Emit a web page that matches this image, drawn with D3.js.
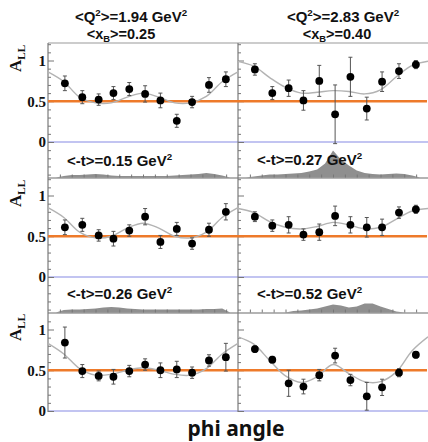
<!DOCTYPE html>
<html lang="en">
<head>
<meta charset="UTF-8">
<title>A_LL vs phi</title>
<script src="https://cdn.jsdelivr.net/npm/d3@7"></script>
<style>
  body { margin: 0; background: #fff; }
  svg { display: block; }
</style>
</head>
<body>
<script>
// phi bin centres (deg), same for every panel
var phiBins = [32, 65, 96, 124, 154, 184, 213, 244, 273, 305, 337];

// A_LL and errors, R = row, L/R = column
var allR1L = [0.72, 0.55, 0.52, 0.60, 0.65, 0.59, 0.51, 0.26, 0.49, 0.70, 0.77];
var errR1L = [0.09, 0.08, 0.07, 0.08, 0.08, 0.10, 0.09, 0.08, 0.07, 0.09, 0.09];
var allR1R = [0.89, 0.60, 0.66, 0.51, 0.75, 0.34, 0.80, 0.41, 0.74, 0.87, 0.95];
var errR1R = [0.07, 0.08, 0.10, 0.12, 0.19, 0.36, 0.24, 0.14, 0.12, 0.09, 0.05];
var allR2L = [0.61, 0.64, 0.51, 0.47, 0.57, 0.74, 0.43, 0.59, 0.41, 0.58, 0.80];
var errR2L = [0.09, 0.08, 0.07, 0.09, 0.07, 0.10, 0.08, 0.08, 0.07, 0.08, 0.10];
var allR2R = [0.74, 0.63, 0.64, 0.52, 0.55, 0.75, 0.64, 0.61, 0.61, 0.79, 0.83];
var errR2R = [0.06, 0.07, 0.10, 0.07, 0.10, 0.12, 0.10, 0.12, 0.10, 0.07, 0.05];
var allR3L = [0.84, 0.49, 0.43, 0.42, 0.49, 0.57, 0.50, 0.51, 0.47, 0.62, 0.66];
var errR3L = [0.19, 0.08, 0.06, 0.09, 0.07, 0.07, 0.09, 0.10, 0.07, 0.07, 0.17];
var allR3R = [0.76, 0.63, 0.34, 0.30, 0.44, 0.68, 0.38, 0.18, 0.29, 0.47, 0.69];
var errR3R = [0.04, 0.04, 0.16, 0.09, 0.07, 0.09, 0.07, 0.17, 0.10, 0.05, 0.04];

// fit curves read every 30 deg
var fitPhi = [0, 30, 60, 90, 120, 150, 180, 210, 240, 270, 300, 330, 360];
var fitR1L = [0.86, 0.74, 0.55, 0.48, 0.48, 0.55, 0.60, 0.55, 0.48, 0.48, 0.56, 0.74, 0.86];
var fitR1R = [0.99, 0.93, 0.79, 0.67, 0.60, 0.61, 0.63, 0.62, 0.59, 0.64, 0.80, 0.94, 0.99];
var fitR2L = [0.85, 0.73, 0.55, 0.48, 0.50, 0.60, 0.66, 0.60, 0.50, 0.48, 0.55, 0.73, 0.85];
var fitR2R = [0.84, 0.79, 0.68, 0.61, 0.59, 0.62, 0.67, 0.64, 0.59, 0.61, 0.71, 0.81, 0.84];
var fitR3L = [0.83, 0.70, 0.52, 0.44, 0.45, 0.50, 0.53, 0.50, 0.45, 0.44, 0.52, 0.70, 0.83];
var fitR3R = [0.91, 0.82, 0.62, 0.43, 0.35, 0.42, 0.57, 0.46, 0.36, 0.36, 0.48, 0.74, 0.91];

// -t distributions (arbitrary counts) every 15 deg
var histPhi = [0, 15, 30, 45, 60, 75, 90, 105, 120, 135, 150, 165, 180,
               195, 210, 225, 240, 255, 270, 285, 300, 315, 330, 345, 360];
var histT015 = [0, 0, 1.5, 2.5, 2.5, 3, 3.5, 3, 2, 1.5, 1.5, 1.5, 1.5, 1.5, 1.5, 1.5, 2, 2.5, 3, 3.5, 4.5, 3.5, 2, 0, 0];
var histT027 = [0, 0, 1, 2, 3, 3, 3.5, 4, 4.5, 6, 8, 14, 27, 18, 12, 7, 4.5, 3.5, 3, 3.5, 4, 3.5, 2, 0, 0];
var histT026 = [0, 0, 2.5, 3, 3, 3.5, 4, 5, 5.5, 5, 4, 3.5, 3, 3, 3, 3, 3, 3, 3, 3, 3.5, 3.5, 4, 0, 0];
var histT052 = [0, 0, 0, 0, 0, 0, 0, 1.5, 2, 3, 4, 6, 8, 7, 5, 6, 9, 9, 6, 3.5, 1, 0, 0, 0, 0];

var colQ2 = ["1.94", "2.83"];
var colXB = ["0.25", "0.40"];
var tMeans = ["0.15", "0.27", "0.26", "0.52"];
var refLine = 0.5;

// ---- layout
var width = 428, height = 442;
var colRange = [[48, 238], [238, 428]];
var rowZero = [142, 277, 411];
var rowTop = [43, 178, 313];
var rowBottom = [178, 313, 411];
var unitPx = 81.5;

var svg = d3.select("body").append("svg")
    .attr("width", width).attr("height", height);

var xs = colRange.map(function(r) {
    return d3.scaleLinear().domain([0, 360]).range(r);
});
var ys = rowZero.map(function(z) {
    return d3.scaleLinear().domain([0, 1]).range([z, z - unitPx]);
});
var hScale = d3.scaleLinear().domain([0, 30]).range([0, 30]);

var panels = [
    {row: 0, col: 0, v: allR1L, e: errR1L, fit: fitR1L},
    {row: 0, col: 1, v: allR1R, e: errR1R, fit: fitR1R},
    {row: 1, col: 0, v: allR2L, e: errR2L, fit: fitR2L},
    {row: 1, col: 1, v: allR2R, e: errR2R, fit: fitR2R},
    {row: 2, col: 0, v: allR3L, e: errR3L, fit: fitR3L},
    {row: 2, col: 1, v: allR3R, e: errR3R, fit: fitR3R}
];
var hists = [
    {base: 177.5, col: 0, h: histT015, label: tMeans[0], ly: 166},
    {base: 177.5, col: 1, h: histT027, label: tMeans[1], ly: 165},
    {base: 312.5, col: 0, h: histT026, label: tMeans[2], ly: 299},
    {base: 312.5, col: 1, h: histT052, label: tMeans[3], ly: 299}
];

function richText(sel, parts, size) {
    var shift = 0;
    parts.forEach(function(p) {
        var t = sel.append("tspan").text(p[0]);
        var target = p[1] === "sup" ? -size * 0.42 : (p[1] === "sub" ? size * 0.24 : 0);
        t.attr("dy", target - shift);
        if (p[1] !== "n") t.attr("font-size", size * 0.65);
        shift = target;
    });
}

// ---- histograms
hists.forEach(function(hd) {
    var x = xs[hd.col];
    var area = d3.area()
        .x(function(d, i) { return x(histPhi[i]); })
        .y0(hd.base)
        .y1(function(d) { return hd.base - hScale(d); });
    svg.append("path").datum(hd.h)
        .attr("d", area)
        .attr("fill", "#8f8f8f");
});

// ---- frame lines
svg.append("line").attr("x1", 48).attr("x2", 428).attr("y1", 43).attr("y2", 43)
    .attr("stroke", "#9a9a9a").attr("stroke-width", 1.2);
[178, 313].forEach(function(y) {
    svg.append("line").attr("x1", 48).attr("x2", 428).attr("y1", y).attr("y2", y)
        .attr("stroke", "#6a6a6a").attr("stroke-width", 1.2);
});
rowZero.forEach(function(z) {
    svg.append("line").attr("x1", 48).attr("x2", 428).attr("y1", z).attr("y2", z)
        .attr("stroke", "#aeb0ec").attr("stroke-width", 1.5);
});
[48, 238].forEach(function(x) {
    svg.append("line").attr("x1", x).attr("x2", x).attr("y1", 43).attr("y2", 412)
        .attr("stroke", "#7a7a7a").attr("stroke-width", 1.2);
});

// ---- y ticks
ys.forEach(function(y, r) {
    var minor = d3.range(-4, 13).map(function(d) { return d / 10; })
        .filter(function(d) {
            var p = y(d);
            return p >= rowTop[r] + 1 && p <= rowBottom[r] - 1 && [0, 0.5, 1].indexOf(d) < 0;
        });
    colRange.forEach(function(cr) {
        var g1 = svg.append("g").attr("transform", "translate(" + cr[0] + ",0)")
            .call(d3.axisRight(y).tickValues(minor).tickSize(3).tickFormat(""));
        var g2 = svg.append("g").attr("transform", "translate(" + cr[0] + ",0)")
            .call(d3.axisRight(y).tickValues([0, 0.5, 1]).tickSize(6).tickFormat(""));
        [g1, g2].forEach(function(g) {
            g.select(".domain").remove();
            g.selectAll("line").attr("stroke", "#777");
        });
    });
    var lab = svg.append("g").attr("transform", "translate(48,0)")
        .call(d3.axisLeft(y).tickValues([0, 0.5, 1]).tickSize(0).tickPadding(2)
            .tickFormat(function(d) { return d === 0.5 ? "0.5" : d; }));
    lab.select(".domain").remove();
    lab.selectAll("text")
        .attr("font-family", "'Liberation Serif', 'Times New Roman', serif")
        .attr("font-weight", "bold").attr("font-size", 15).attr("fill", "#111");

    // A_LL axis title
    var t = svg.append("text")
        .attr("transform", "translate(21," + (y(1) - 2) + ") rotate(-90)")
        .attr("text-anchor", "middle")
        .attr("font-family", "'Liberation Serif', 'Times New Roman', serif")
        .attr("font-weight", "bold").attr("font-size", 17).attr("fill", "#111");
    richText(t, [["A", "n"], ["LL", "sub"]], 17);
});

// ---- x ticks on the histogram baselines
[177.5, 312.5].forEach(function(b) {
    xs.forEach(function(x) {
        var g = svg.append("g").attr("transform", "translate(0," + b + ")")
            .call(d3.axisTop(x).tickValues(d3.range(22.5, 360, 22.5)).tickSize(3).tickFormat(""));
        g.select(".domain").remove();
        g.selectAll("line").attr("stroke", "#777");
    });
});

// ---- reference line at 0.5
rowZero.forEach(function(z, r) {
    svg.append("line").attr("x1", 48).attr("x2", 427)
        .attr("y1", ys[r](refLine)).attr("y2", ys[r](refLine))
        .attr("stroke", "#ee7a2a").attr("stroke-width", 2.6);
});

// ---- fits, error bars, points
panels.forEach(function(p) {
    var x = xs[p.col], y = ys[p.row];
    var line = d3.line()
        .x(function(d, i) { return x(fitPhi[i]); })
        .y(function(d) { return y(d); })
        .curve(d3.curveCatmullRom);
    svg.append("path").datum(p.fit)
        .attr("d", line).attr("fill", "none")
        .attr("stroke", "#b3b3b3").attr("stroke-width", 1.4);

    var g = svg.append("g");
    var bars = g.selectAll("g.eb").data(p.v).enter().append("g");
    bars.append("line")
        .attr("x1", function(d, i) { return x(phiBins[i]); })
        .attr("x2", function(d, i) { return x(phiBins[i]); })
        .attr("y1", function(d, i) { return y(d - p.e[i]); })
        .attr("y2", function(d, i) { return y(d + p.e[i]); })
        .attr("stroke", "#555").attr("stroke-width", 1);
    [-1, 1].forEach(function(s) {
        bars.append("line")
            .attr("x1", function(d, i) { return x(phiBins[i]) - 2; })
            .attr("x2", function(d, i) { return x(phiBins[i]) + 2; })
            .attr("y1", function(d, i) { return y(d + s * p.e[i]); })
            .attr("y2", function(d, i) { return y(d + s * p.e[i]); })
            .attr("stroke", "#555").attr("stroke-width", 1);
    });
    bars.append("circle")
        .attr("cx", function(d, i) { return x(phiBins[i]); })
        .attr("cy", function(d) { return y(d); })
        .attr("r", 3.9).attr("fill", "#000");
});

// ---- labels
var sans = "'Liberation Sans', Arial, sans-serif";
colQ2.forEach(function(q, c) {
    var t1 = svg.append("text").attr("x", [131, 343][c]).attr("y", 22)
        .attr("text-anchor", "middle").attr("font-family", sans)
        .attr("font-weight", "bold").attr("font-size", 15).attr("fill", "#111");
    richText(t1, [["<Q", "n"], ["2", "sup"], [">=" + q + " GeV", "n"], ["2", "sup"]], 15);
    var t2 = svg.append("text").attr("x", [121, 337][c]).attr("y", 39)
        .attr("text-anchor", "middle").attr("font-family", sans)
        .attr("font-weight", "bold").attr("font-size", 14.5).attr("fill", "#111");
    richText(t2, [["<x", "n"], ["B", "sub"], [">=" + colXB[c], "n"]], 14.5);
});

hists.forEach(function(hd) {
    var t = svg.append("text").attr("x", colRange[hd.col][0] + 19).attr("y", hd.ly)
        .attr("font-family", sans).attr("font-weight", "bold")
        .attr("font-size", 15).attr("fill", "#111");
    richText(t, [["<-t>=" + hd.label + " GeV", "n"], ["2", "sup"]], 15);
});

svg.append("text").attr("x", 236).attr("y", 436)
    .attr("text-anchor", "middle")
    .attr("font-family", "'Noto Sans', sans-serif").attr("font-weight", "bold")
    .attr("font-size", 21).attr("fill", "#111")
    .text("phi angle");
</script>
</body>
</html>
